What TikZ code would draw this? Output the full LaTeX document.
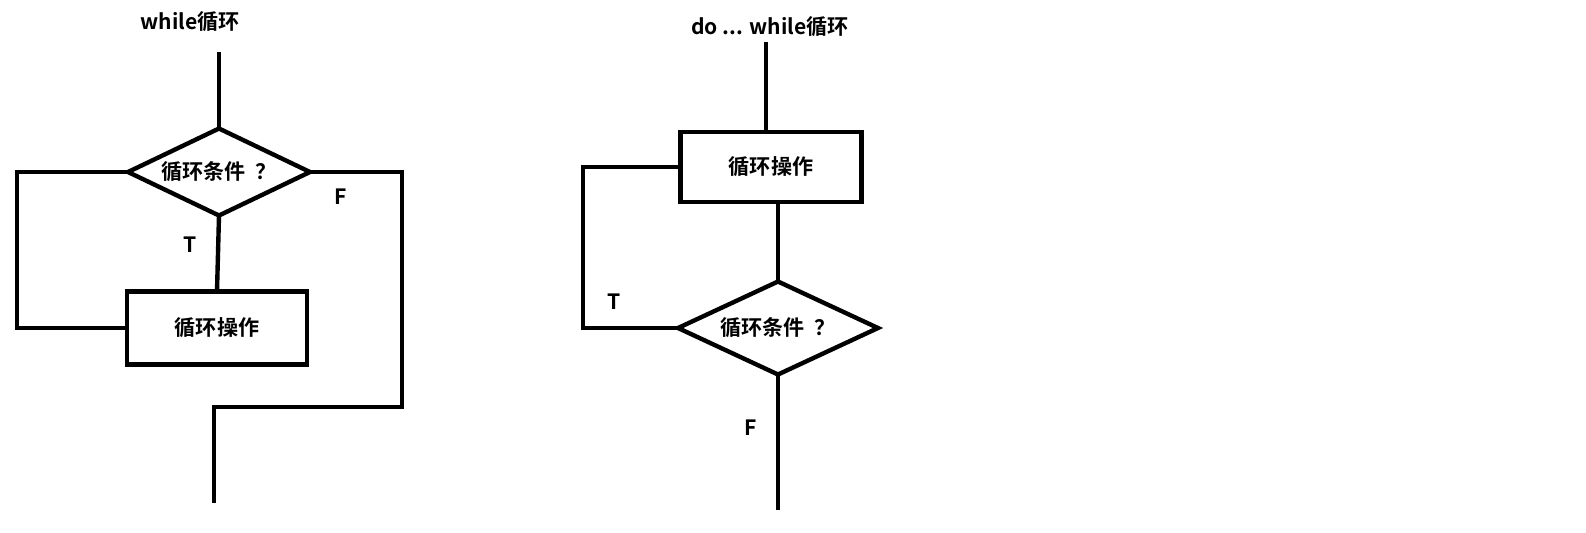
\documentclass[tikz,border=0pt]{standalone}
\usepackage{fontspec}
\setmainfont{Noto Sans CJK SC}[BoldFont={Noto Sans CJK SC Bold}]
\usetikzlibrary{positioning,shapes.geometric}
\tikzset{every picture/.style={line width=2.5pt}}
\tikzset{font=\fontsize{12pt}{14pt}\selectfont\bfseries}
\tikzstyle{act}=[rectangle,draw,inner sep=0pt,outer sep=0pt]
\tikzstyle{cond}=[diamond,draw,inner sep=0pt,outer sep=0pt,aspect=2]
\tikzstyle{lbl}=[inner sep=0pt]
\newcommand{\condtext}{循环条件\hspace{0.45em}？}
\begin{document}
\begin{tikzpicture}[x=0.02cm,y=-0.02cm]
\useasboundingbox (0,0) rectangle (1586,532);
% while loop
\node[lbl] (W) at (190,22) {while循环};
\coordinate (W0) at (219,52);
\node[cond,minimum width=3.64cm,minimum height=1.74cm] (C) at (219,172) {\condtext};
\node[act,minimum width=3.6cm,minimum height=1.46cm] (P) at (217,328) {循环操作};
\coordinate (CL) at (17,172);
\coordinate (CR) at (402,407);
\coordinate (J) at (214,407);
\coordinate (W1) at (214,503);
\node[lbl] (T) at (190,245) {T};
\node[lbl] (F) at (341,197) {F};
\draw (W0) -- (C.north);
\draw (C.south) -- (P.north);
\draw (C.west) -- (CL) |- (P.west);
\draw (C.east) -| (CR) -- (J) -- (W1);
% do ... while loop
\node[lbl] (D) at (770,27) {do ... while循环};
\coordinate (D0) at (766,42);
\node[act,minimum width=3.62cm,minimum height=1.4cm] (P') at (771,167) {循环操作};
\node[cond,minimum width=4cm,minimum height=1.86cm] (C') at (778,328) {\condtext};
\coordinate (CL') at (583,167);
\coordinate (D1) at (778,510);
\node[lbl] (T') at (614,302) {T};
\node[lbl] (F') at (751,428) {F};
\draw (D0) -- (D0 |- P'.north);
\draw (C'.north |- P'.south) -- (C'.north);
\draw (P'.west) -- (CL') |- (C'.west);
\draw (C'.south) -- (D1);
\end{tikzpicture}
\end{document}
